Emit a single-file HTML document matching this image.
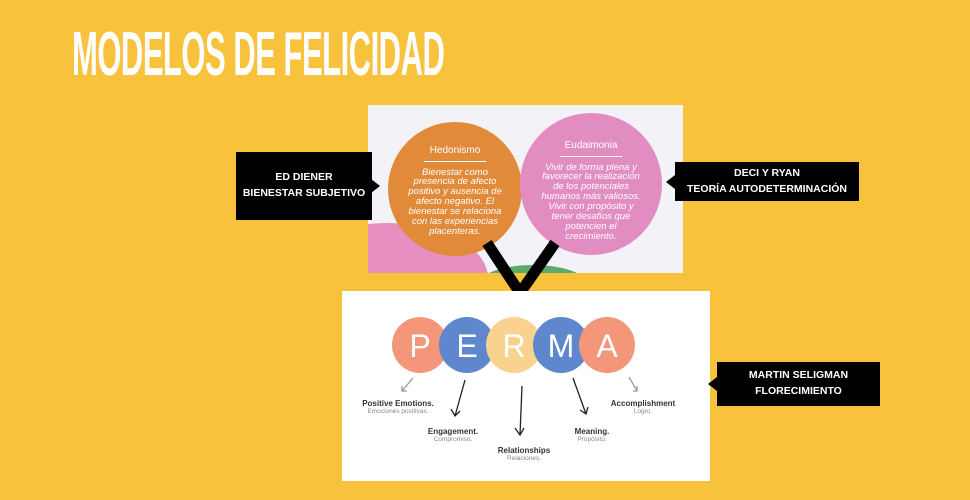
<!DOCTYPE html>
<html><head><meta charset="utf-8">
<style>
body{margin:0;width:970px;height:500px;background:#F9C23D;position:relative;overflow:hidden;font-family:"Liberation Sans",sans-serif}
.abs{position:absolute}
.title{left:72px;top:24px;font-size:62px;font-weight:bold;color:#fff;letter-spacing:-1px;transform:scaleX(0.5);transform-origin:left top;font-family:"Liberation Sans Narrow","Liberation Sans",sans-serif;line-height:1;white-space:nowrap}
.box{background:#000;color:#fff;font-weight:bold;font-size:10.5px;text-align:center;display:flex;align-items:center;justify-content:center;line-height:1.5}
.circ{border-radius:50%;color:#fff;text-align:center;font-style:italic;font-size:9.5px;line-height:1.05}
.lab{font-size:8px;text-align:center;color:#333;font-weight:bold;width:110px}
.lab span{display:block;font-weight:normal;color:#888;font-size:6.5px}
</style></head><body>
<div class="abs title">MODELOS DE FELICIDAD</div>

<div class="abs" style="left:368px;top:105px;width:315px;height:168px;background:#F3F2F6;overflow:hidden">
 <div class="abs" style="left:-80px;top:118px;width:200px;height:110px;border-radius:50%;background:#E68FC0"></div>
 <div class="abs" style="left:110px;top:160px;width:110px;height:40px;border-radius:50%;background:#5EA86B"></div>
 <div class="abs circ" style="left:20px;top:17px;width:134px;height:134px;background:#E08A3A">
  <div style="margin-top:24px;font-style:normal;font-size:10px">Hedonismo</div>
  <div style="width:62px;height:1px;background:#fff;margin:4px auto 6px"></div>
  <div style="padding:0 20px">Bienestar como presencia de afecto positivo y ausencia de afecto negativo. El bienestar se relaciona con las experiencias placenteras.</div>
 </div>
 <div class="abs circ" style="left:152px;top:8px;width:142px;height:142px;background:#E28DC2">
  <div style="margin-top:28px;font-style:normal;font-size:10px">Eudaimonia</div>
  <div style="width:62px;height:1px;background:#fff;margin:4px auto 6px"></div>
  <div style="padding:0 20px">Vivir de forma plena y favorecer la realización de los potenciales humanos más valiosos. Vivir con propósito y tener desafíos que potencien el crecimiento.</div>
 </div>
</div>

<svg class="abs" style="left:0;top:0" width="970" height="500">
 <polyline points="487,243 520,293 555,243" fill="none" stroke="#000" stroke-width="11"/>
</svg>

<div class="abs" style="left:342px;top:291px;width:368px;height:190px;background:#fff"></div>
<svg class="abs" style="left:0;top:0" width="970" height="500">
 <g opacity="0.9">
  <circle cx="420" cy="345" r="28" fill="#F28B6C"/>
  <circle cx="467" cy="345" r="28" fill="#4E7BC8"/>
  <circle cx="514" cy="345" r="28" fill="#F8CE82"/>
  <circle cx="561" cy="345" r="28" fill="#4E7BC8"/>
  <circle cx="607" cy="345" r="28" fill="#F28B6C"/>
 </g>
 <g font-family="Liberation Sans" font-size="32" fill="#fff" text-anchor="middle">
  <text x="420" y="357">P</text><text x="467" y="357">E</text><text x="514" y="357">R</text><text x="561" y="357">M</text><text x="607" y="357">A</text>
 </g>
 <g stroke="#222" fill="none" stroke-width="1.3">
  <path d="M413,378 L402,391 M402,386 L402,391 L407,391" stroke="#999"/>
  <path d="M465,380 L455,416 M451,409 L455,416 L460,411"/>
  <path d="M522,386 L520,435 M515,428 L520,435 L524,428"/>
  <path d="M573,378 L586,414 M580,410 L586,414 L588,407"/>
  <path d="M629,377 L637,391 M633,391 L637,391 L637,386" stroke="#999"/>
 </g>
</svg>
<div class="abs lab" style="left:343px;top:399px">Positive Emotions.<span>Emociones positivas.</span></div>
<div class="abs lab" style="left:398px;top:427px">Engagement.<span>Compromiso.</span></div>
<div class="abs lab" style="left:469px;top:446px">Relationships<span>Relaciones.</span></div>
<div class="abs lab" style="left:537px;top:427px">Meaning.<span>Propósito.</span></div>
<div class="abs lab" style="left:588px;top:399px">Accomplishment<span>Logro.</span></div>

<div class="abs box" style="left:236px;top:152px;width:136px;height:68px">ED DIENER<br>BIENESTAR SUBJETIVO</div>
<div class="abs" style="left:371px;top:186px;border:7px solid transparent;border-left:9px solid #000;transform:translateY(-7px)"></div>
<div class="abs box" style="left:675px;top:162px;width:184px;height:39px">DECI Y RYAN<br>TEORÍA AUTODETERMINACIÓN</div>
<div class="abs" style="left:659px;top:175px;border:7px solid transparent;border-right:9px solid #000"></div>
<div class="abs box" style="left:717px;top:362px;width:163px;height:44px">MARTIN SELIGMAN<br>FLORECIMIENTO</div>
<div class="abs" style="left:701px;top:377px;border:7px solid transparent;border-right:9px solid #000"></div>
</body></html>
